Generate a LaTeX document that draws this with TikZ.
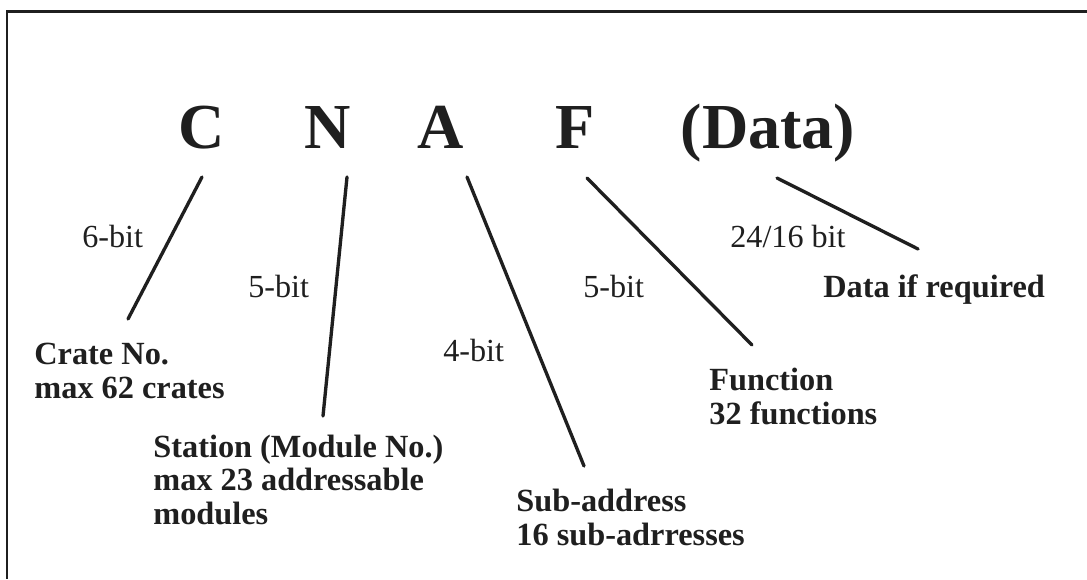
\documentclass[tikz,border=0pt]{standalone}
\usepackage{fontspec}
\setmainfont{Liberation Serif}
\begin{document}
\begin{tikzpicture}[x=0.02cm,y=-0.02cm,
  ink/.style={draw=black!88},
  frameline/.style={ink,line width=1.7pt},
  leader/.style={ink,line width=1.9pt,line cap=round},
  big/.style={inner sep=0pt,anchor=base,text=black!88,font=\fontsize{36.5}{40}\selectfont\bfseries},
  bits/.style={inner sep=0pt,anchor=base west,text=black!88,font=\fontsize{18.3}{19}\selectfont},
  desc/.style={inner sep=0pt,anchor=base west,align=left,text=black!88,font=\fontsize{18.4}{19}\selectfont\bfseries}]
\useasboundingbox (0,0) rectangle (1087,579);
\fill[white] (0,0) rectangle (1087,579);

% open frame: top and left edges
\draw[frameline] (1087,11.5) -- (7,11.5) -- (7,579);

% command letters
\node[big] (C) at (202,148) {C};
\node[big] (N) at (328,148) {N};
\node[big] (A) at (441,148) {A};
\node[big] (F) at (575,148) {F};
\node[big] (D) at (768,148) {(Data)};

% leader end points
\coordinate (c1) at (202,177); \coordinate (c2) at (128,319);
\coordinate (n1) at (347,177); \coordinate (n2) at (323,416);
\coordinate (a1) at (467,177); \coordinate (a2) at (584,466);
\coordinate (f1) at (587,178); \coordinate (f2) at (752,345);
\coordinate (d1) at (777,178); \coordinate (d2) at (918,249);

\draw[leader] (c1) -- (c2);
\draw[leader] (n1) -- (n2);
\draw[leader] (a1) -- (a2);
\draw[leader] (f1) -- (f2);
\draw[leader] (d1) -- (d2);

% field widths
\node[bits] (bc) at (82,247) {6-bit};
\node[bits] (bn) at (248,297) {5-bit};
\node[bits] (ba) at (443,361) {4-bit};
\node[bits] (bf) at (583,297) {5-bit};
\node[bits] (bd) at (730,247) {24/16 bit};

% field descriptions (anchored at the baseline of the last line)
\node[desc] (crate) at (34,398) {Crate No.\\max 62 crates};
\node[desc] (station) at (153,524) {Station (Module No.)\\max 23 addressable\\modules};
\node[desc] (sub) at (516,545) {Sub-address\\16 sub-adrresses};
\node[desc] (func) at (709,424) {Function\\32 functions};
\node[desc] (data) at (823,297) {Data if required};
\end{tikzpicture}
\end{document}
